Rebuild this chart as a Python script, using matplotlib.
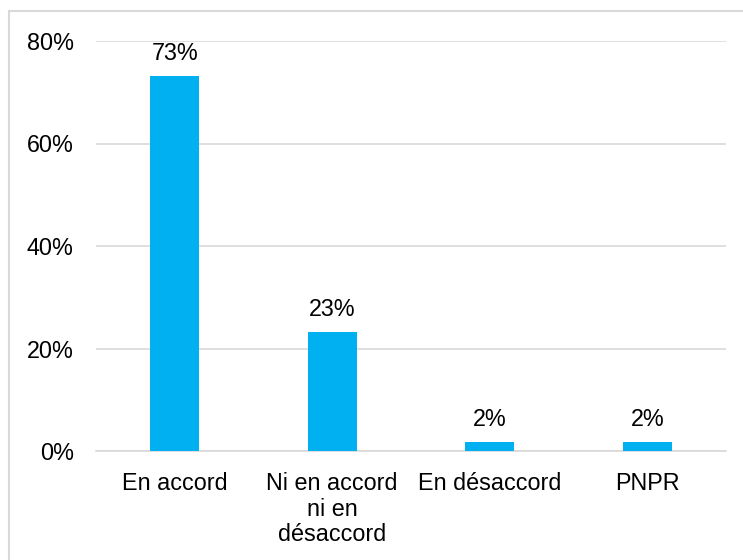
import matplotlib.pyplot as plt
from matplotlib.patches import Rectangle
from matplotlib.ticker import FuncFormatter

plt.rcParams['font.family'] = ['Liberation Sans', 'DejaVu Sans']

# données
categories = ['En accord', 'Ni en accord\nni en\ndésaccord', 'En désaccord', 'PNPR']
values = [0.732, 0.232, 0.018, 0.018]
labels = ['73%', '23%', '2%', '2%']
y_ticks = [0, 0.2, 0.4, 0.6, 0.8]

W, H = 743, 560
fig = plt.figure(figsize=(W / 100, H / 100), dpi=100)
ax = fig.add_axes([96 / W, (H - 451) / H, (726 - 96) / W, (451 - 41) / H])

x = range(len(categories))
bars = ax.bar(x, values, width=0.31, color='#00B0F0', zorder=3)

for b, lab in zip(bars, labels):
    ax.annotate(lab, (b.get_x() + b.get_width() / 2, b.get_height()),
                xytext=(0, 8), textcoords='offset points',
                ha='center', va='bottom', fontsize=16.8, color='#000000')

ax.set_xlim(-0.5, len(categories) - 0.5)
ax.set_ylim(0, 0.8)
ax.set_yticks(y_ticks)
ax.yaxis.set_major_formatter(FuncFormatter(lambda v, pos: f'{v * 100:.0f}%'))
ax.set_xticks(list(x))
ax.set_xticklabels(categories, fontsize=16.8, linespacing=1.15, va='top')
ax.tick_params(axis='y', labelsize=16.8, length=0, pad=16)
ax.tick_params(axis='x', length=0, pad=15)

ax.grid(axis='y', color='#D9D9D9', linewidth=1.2, zorder=0)
for s in ['top', 'right', 'left']:
    ax.spines[s].set_visible(False)
ax.spines['bottom'].set_color('#D9D9D9')
ax.spines['bottom'].set_linewidth(1.2)

# cadre du graphique (coupé à droite et en bas)
fig.patches.append(Rectangle((9 / W, -0.05), 1.0, (H - 11) / H + 0.05,
                             transform=fig.transFigure, fill=False,
                             edgecolor='#D9D9D9', linewidth=1.5))

fig.savefig('out.png', dpi=100)
